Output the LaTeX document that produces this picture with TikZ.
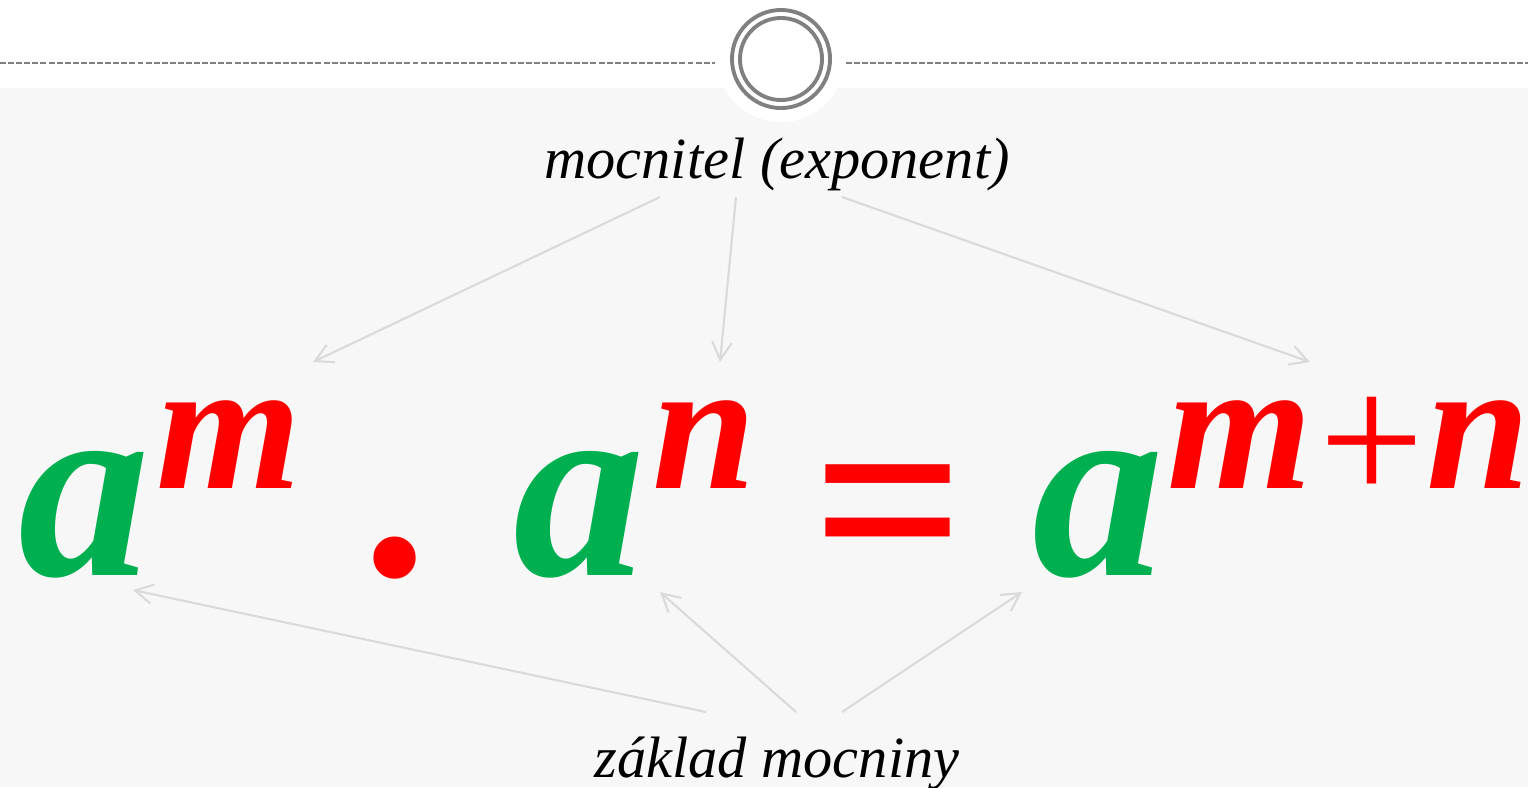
\documentclass[tikz,border=0pt]{standalone}
\usepackage{fontspec}
\setmainfont{Liberation Serif}
\usepackage{xcolor}
\usetikzlibrary{arrows.meta,positioning,calc}
\definecolor{zgreen}{HTML}{00B050}
\definecolor{zred}{HTML}{FF0000}
\definecolor{ringgray}{HTML}{808080}
\definecolor{bggray}{HTML}{F7F7F7}
\definecolor{arrgray}{HTML}{DADADA}

\begin{document}
\begin{tikzpicture}[x=0.01cm,y=-0.01cm,
  lbl/.style={font=\fontsize{16.6}{20}\selectfont\itshape,anchor=base,inner sep=0pt},
  zaklad/.style={zgreen,font=\fontsize{75}{80}\selectfont\bfseries\itshape,anchor=base,inner sep=0pt},
  expo/.style={zred,font=\fontsize{53}{60}\selectfont\bfseries\itshape,anchor=base,inner sep=0pt},
  op/.style={zred,font=\fontsize{74}{80}\selectfont\bfseries,anchor=base,inner sep=0pt},
  ring/.style={ringgray,line width=1.1pt},
  ptr/.style={-{Straight Barb[length=5pt,width=5.5pt]},arrgray,line width=0.6pt}]
  \useasboundingbox (0,0) rectangle (1528,787);
  % background and top ornament
  \fill[bggray] (0,88) rectangle (1528,787);
  \fill[white] (781,58) circle[radius=0.64cm];
  \draw[ringgray,line width=0.6pt,dash pattern=on 1.7pt off 0.6pt] (0,63) -- (715,63);
  \draw[ringgray,line width=0.6pt,dash pattern=on 1.7pt off 0.6pt] (846,63) -- (1528,63);
  \draw[ring] (781,59) circle[radius=0.49cm];
  \draw[ring] (781,59) circle[radius=0.41cm];
  % labels
  \node[lbl] (mocn) at (777,178) {mocnitel (exponent)};
  \node[lbl] (zakl) at (777,777) {základ mocniny};
  % formula
  \node[zaklad] (a1) at (84,575) {a};
  \node[expo] (m1) at (229,488) {m};
  \node[op] (dot) at (395,575) {.};
  \node[zaklad] (a2) at (579,575) {a};
  \node[expo] (n2) at (704,488) {n};
  \node[op,font=\fontsize{76}{80}\selectfont\bfseries\itshape] (eq) at (887,589) {=};
  \node[zaklad] (a3) at (1098,575) {a};
  \node[expo] (mn3) at (1349,488) {m\kern-1.5pt{\mdseries\raisebox{-4pt}{+}}\kern-2pt n};
  % arrow ends
  \coordinate (e1) at (660,197);
  \coordinate (e2) at (736,197);
  \coordinate (e3) at (842,197);
  \coordinate (te1) at (313,362);
  \coordinate (te2) at (720,362);
  \coordinate (te3) at (1310,362);
  \coordinate (z1) at (706,712);
  \coordinate (z2) at (796,712);
  \coordinate (z3) at (842,712);
  \coordinate (tz1) at (133,590);
  \coordinate (tz2) at (660,592);
  \coordinate (tz3) at (1022,592);
  \draw[ptr] (e1) -- (te1);
  \draw[ptr] (e2) -- (te2);
  \draw[ptr] (e3) -- (te3);
  \draw[ptr] (z1) -- (tz1);
  \draw[ptr] (z2) -- (tz2);
  \draw[ptr] (z3) -- (tz3);
\end{tikzpicture}
\end{document}
